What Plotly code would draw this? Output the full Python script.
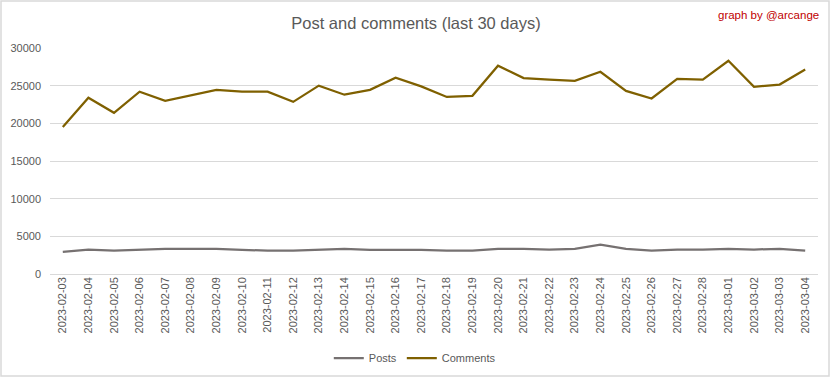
import plotly.graph_objects as go

dates = ["2023-02-03","2023-02-04","2023-02-05","2023-02-06","2023-02-07","2023-02-08",
         "2023-02-09","2023-02-10","2023-02-11","2023-02-12","2023-02-13","2023-02-14",
         "2023-02-15","2023-02-16","2023-02-17","2023-02-18","2023-02-19","2023-02-20",
         "2023-02-21","2023-02-22","2023-02-23","2023-02-24","2023-02-25","2023-02-26",
         "2023-02-27","2023-02-28","2023-03-01","2023-03-02","2023-03-03","2023-03-04"]

posts = [2950, 3250, 3100, 3200, 3350, 3350, 3350, 3200, 3100, 3100,
         3200, 3350, 3200, 3200, 3200, 3100, 3100, 3350, 3350, 3250,
         3350, 3900, 3350, 3100, 3250, 3250, 3350, 3250, 3350, 3100]

comments = [19500, 23400, 21400, 24200, 23000, 23700, 24450, 24200, 24200, 22850,
            25000, 23800, 24450, 26050, 24900, 23500, 23650, 27650, 26000, 25800,
            25650, 26850, 24300, 23300, 25900, 25800, 28300, 24850, 25150, 27150]

y_ticks = [0, 5000, 10000, 15000, 20000, 25000, 30000]
y_tick_labels = ["0", "5000", "10000", "15000", "20000", "25000", "30000"]

font_family = "Liberation Sans, Arial, sans-serif"

fig = go.Figure()
fig.add_trace(go.Scatter(x=dates, y=posts, name="Posts", mode="lines",
                         line=dict(color="#767171", width=2.25)))
fig.add_trace(go.Scatter(x=dates, y=comments, name="Comments", mode="lines",
                         line=dict(color="#7F6000", width=2.25)))

fig.update_layout(
    width=832, height=378,
    margin=dict(l=50, r=14, t=48, b=104, autoexpand=False),
    paper_bgcolor="white", plot_bgcolor="white",
    font=dict(family=font_family, color="#595959", size=12),
    title=dict(text="Post and comments (last 30 days)", x=0.5, xanchor="center",
               y=1 - 23/378, yanchor="middle",
               font=dict(size=16.5, color="#595959", family=font_family)),
    showlegend=True,
    legend=dict(orientation="h", x=0.475, xanchor="center", y=-0.372, yanchor="middle",
                font=dict(size=11, color="#595959"), bgcolor="rgba(0,0,0,0)"),
    annotations=[dict(text="graph by @arcange", xref="paper", yref="paper",
                      x=(821-50)/768, xanchor="right", y=1 + (48-15)/226, yanchor="middle",
                      showarrow=False, font=dict(size=11.5, color="#C00000", family=font_family))],
    shapes=[dict(type="rect", xref="paper", yref="paper",
                 x0=-49/768, x1=1 + 11/768, y0=-102/226, y1=1 + 47/226,
                 line=dict(color="#D9D9D9", width=1.5))],
)

fig.update_xaxes(type="category", range=[-0.5, len(dates) - 0.5], tickangle=-90,
                 showgrid=False, showline=False, ticks="", automargin=False,
                 tickfont=dict(size=11, color="#595959"))
fig.update_yaxes(range=[0, 30000], tickvals=y_ticks, ticktext=y_tick_labels,
                 showgrid=True, gridcolor="#D9D9D9", automargin=False,
                 gridwidth=1, zeroline=True, zerolinecolor="#D9D9D9", zerolinewidth=1,
                 showline=False, ticks="", ticklabelstandoff=8,
                 tickfont=dict(size=11, color="#595959"))

fig.write_html("out.html", config={"displayModeBar": False},
               post_script="document.body.style.margin='0';document.body.style.overflow='hidden';")
